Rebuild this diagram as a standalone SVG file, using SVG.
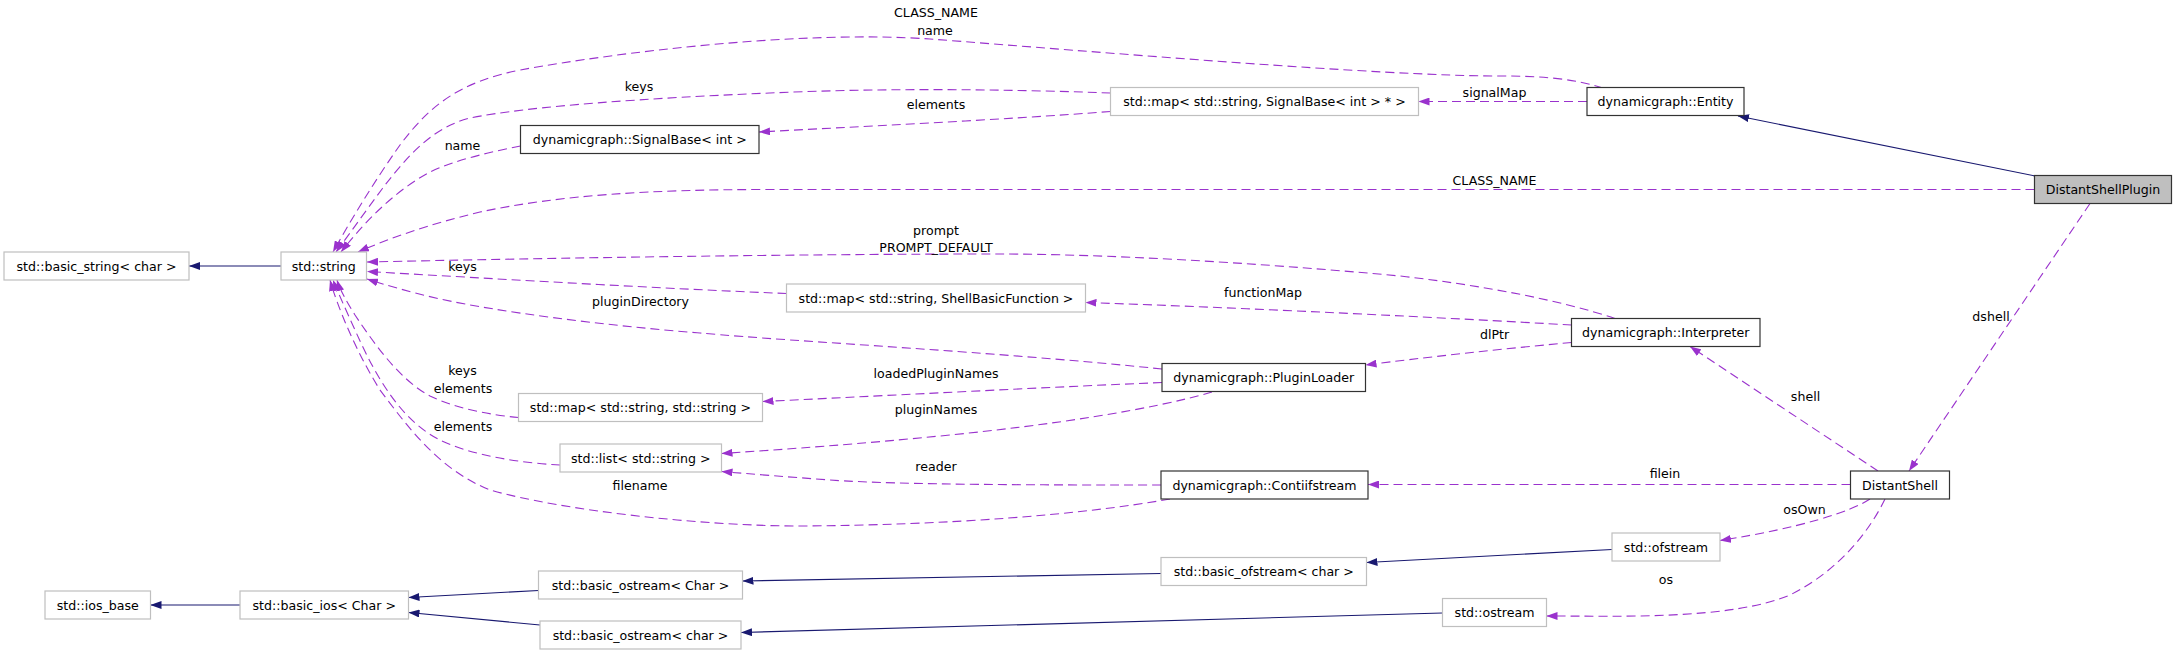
<svg xmlns="http://www.w3.org/2000/svg" width="2176" height="653" viewBox="0 0 2176 653">
<style>
.n rect{fill:#fff;stroke:#333;stroke-width:1.2}
.x rect{fill:#fff;stroke:#bfbfbf;stroke-width:1.2}
#DistantShellPlugin rect{fill:#bfbfbf}
text{font-family:"DejaVu Sans",sans-serif;font-size:12.6px;text-anchor:middle;fill:#000}
.d{fill:none;stroke:#9a32cd;stroke-width:1.1;stroke-dasharray:9,5;marker-end:url(#ap)}
.i{fill:none;stroke:#191970;stroke-width:1.1;marker-end:url(#an)}
</style>
<defs>
<marker id="ap" viewBox="0 0 11 8" refX="11" refY="4" markerWidth="11" markerHeight="8" markerUnits="userSpaceOnUse" orient="auto"><path d="M0,0L11,4L0,8z" fill="#9a32cd"/></marker>
<marker id="an" viewBox="0 0 11 8" refX="11" refY="4" markerWidth="11" markerHeight="8" markerUnits="userSpaceOnUse" orient="auto"><path d="M0,0L11,4L0,8z" fill="#191970"/></marker>
</defs>
<rect width="2176" height="653" fill="#fff"/>
<g id="edges">
<path class="i" d="M2035,176L1738,116"/>
<path class="d" d="M1587,101.5L1418.5,101.5"/>
<path class="d" d="M1110.5,111.5C1000,120 850,127 759,132"/>
<path class="d" d="M1110.5,93C1000,89 880,88 770,93C650,98 530,106 470,118C430,128 405,160 385,185C365,212 345,240 336,252"/>
<path class="d" d="M1603,88C1575,79 1545,76 1500,76C1380,76 1100,52 930,39C800,30 620,52 520,70C460,82 430,105 400,145C375,180 348,225 333,252"/>
<path class="d" d="M520.5,146C490,152 455,160 430,172C400,188 370,215 341,252"/>
<path class="d" d="M2034.5,189.5L770,189.5C650,189.5 560,195 480,212C430,224 390,238 358,252"/>
<path class="d" d="M1615,318.5C1560,300 1480,285 1400,276C1250,262 1100,254 1000,254C800,254 550,258 367,262"/>
<path class="d" d="M786.5,293.5C650,288 500,279 367,271.5"/>
<path class="d" d="M1162,369C1000,352 800,342 700,333C600,325 500,312 440,299C410,292 385,285 367,279"/>
<path class="d" d="M518.5,417.5C490,415 455,408 430,396C400,380 375,345 355,315C347,302 340,290 337,280"/>
<path class="d" d="M560,465C520,463 470,455 440,440C400,420 375,375 355,330C345,308 337,290 333,280"/>
<path class="d" d="M1170,499C1080,515 950,525 800,526C700,526 560,510 490,490C440,470 410,430 380,390C355,350 337,305 330,280"/>
<path class="d" d="M1571.5,325C1450,318 1250,308 1085.5,302.5"/>
<path class="d" d="M1571.5,342.5C1500,349 1420,358 1365.5,365"/>
<path class="d" d="M1162,382.5C1030,388 900,395 762.5,401.5"/>
<path class="d" d="M1212,392C1150,410 1050,425 950,435C860,444 790,449 721.5,453.5"/>
<path class="d" d="M1161,485C1050,485 900,485 830,480C790,477 750,474 721.5,471.5"/>
<path class="d" d="M1850.5,484.5L1368,484.5"/>
<path class="d" d="M1878,471L1690,346.5"/>
<path class="d" d="M2090,203.5L1909,471"/>
<path class="d" d="M1870,499C1850,512 1800,528 1720,540.5"/>
<path class="d" d="M1885,499C1870,530 1840,570 1790,595C1730,620 1620,616 1546.5,616"/>
<path class="i" d="M1612,549.5L1366.5,562.5"/>
<path class="i" d="M1161,573.5L742.5,581"/>
<path class="i" d="M1442.5,613L741,632.5"/>
<path class="i" d="M538.5,590.5L408.5,597.5"/>
<path class="i" d="M540,625L408.5,612.5"/>
<path class="i" d="M240,605L150.5,605"/>
<path class="i" d="M281,266L189,266"/>
<text x="936" y="17">CLASS_NAME</text>
<text x="935" y="35">name</text>
<text x="639" y="91">keys</text>
<text x="936" y="109">elements</text>
<text x="1494.5" y="97">signalMap</text>
<text x="462.5" y="150">name</text>
<text x="1494.5" y="185">CLASS_NAME</text>
<text x="936" y="235">prompt</text>
<text x="936" y="252">PROMPT_DEFAULT</text>
<text x="462.5" y="271">keys</text>
<text x="1263" y="297">functionMap</text>
<text x="640.5" y="306">pluginDirectory</text>
<text x="1494.5" y="338.5">dlPtr</text>
<text x="1991" y="320.5">dshell</text>
<text x="1805.5" y="401">shell</text>
<text x="462.5" y="375">keys</text>
<text x="463" y="392.5">elements</text>
<text x="936" y="378">loadedPluginNames</text>
<text x="936" y="414">pluginNames</text>
<text x="463" y="431">elements</text>
<text x="936" y="471">reader</text>
<text x="640" y="489.5">filename</text>
<text x="1665" y="478">filein</text>
<text x="1804.5" y="514">osOwn</text>
<text x="1666" y="583.5">os</text>
</g>
<g id="DistantShellPlugin" class="n"><rect x="2034.5" y="175.5" width="137" height="28"/><text x="2103" y="194">DistantShellPlugin</text></g>
<g id="Entity" class="n"><rect x="1587" y="87.5" width="157" height="28"/><text x="1665.5" y="106">dynamicgraph::Entity</text></g>
<g id="mapSignalBase" class="x"><rect x="1110.5" y="87.5" width="308" height="28"/><text x="1264.5" y="106">std::map&lt; std::string, SignalBase&lt; int &gt; * &gt;</text></g>
<g id="SignalBase" class="n"><rect x="520.5" y="125.5" width="238.5" height="28"/><text x="639.75" y="144">dynamicgraph::SignalBase&lt; int &gt;</text></g>
<g id="basic_string" class="x"><rect x="4" y="252" width="185" height="28"/><text x="96.5" y="270.5">std::basic_string&lt; char &gt;</text></g>
<g id="string" class="x"><rect x="281" y="252" width="85.5" height="28"/><text x="323.75" y="270.5">std::string</text></g>
<g id="mapShellBasicFunction" class="x"><rect x="786.5" y="284" width="299" height="28"/><text x="936" y="302.5">std::map&lt; std::string, ShellBasicFunction &gt;</text></g>
<g id="Interpreter" class="n"><rect x="1571.5" y="318.5" width="188.5" height="28"/><text x="1665.75" y="337">dynamicgraph::Interpreter</text></g>
<g id="PluginLoader" class="n"><rect x="1162" y="363.5" width="203.5" height="28"/><text x="1263.75" y="382">dynamicgraph::PluginLoader</text></g>
<g id="mapStringString" class="x"><rect x="518.5" y="393.5" width="244" height="28"/><text x="640.5" y="412">std::map&lt; std::string, std::string &gt;</text></g>
<g id="listString" class="x"><rect x="560" y="444" width="161.5" height="28"/><text x="640.75" y="462.5">std::list&lt; std::string &gt;</text></g>
<g id="Contiifstream" class="n"><rect x="1161" y="471" width="207" height="28"/><text x="1264.5" y="489.5">dynamicgraph::Contiifstream</text></g>
<g id="DistantShell" class="n"><rect x="1850.5" y="471" width="99" height="28"/><text x="1900" y="489.5">DistantShell</text></g>
<g id="ofstream" class="x"><rect x="1612" y="533" width="108" height="28"/><text x="1666" y="551.5">std::ofstream</text></g>
<g id="basic_ofstream" class="x"><rect x="1161" y="557.5" width="205.5" height="28"/><text x="1263.75" y="576">std::basic_ofstream&lt; char &gt;</text></g>
<g id="basic_ostream_Char" class="x"><rect x="538.5" y="571" width="204" height="28"/><text x="640.5" y="589.5">std::basic_ostream&lt; Char &gt;</text></g>
<g id="ios_base" class="x"><rect x="45" y="591" width="105.5" height="28"/><text x="97.75" y="609.5">std::ios_base</text></g>
<g id="basic_ios" class="x"><rect x="240" y="591" width="168.5" height="28"/><text x="324.25" y="609.5">std::basic_ios&lt; Char &gt;</text></g>
<g id="basic_ostream_char" class="x"><rect x="540" y="621" width="201" height="28"/><text x="640.5" y="639.5">std::basic_ostream&lt; char &gt;</text></g>
<g id="ostream" class="x"><rect x="1442.5" y="598.5" width="104" height="28"/><text x="1494.5" y="617">std::ostream</text></g>
</svg>
